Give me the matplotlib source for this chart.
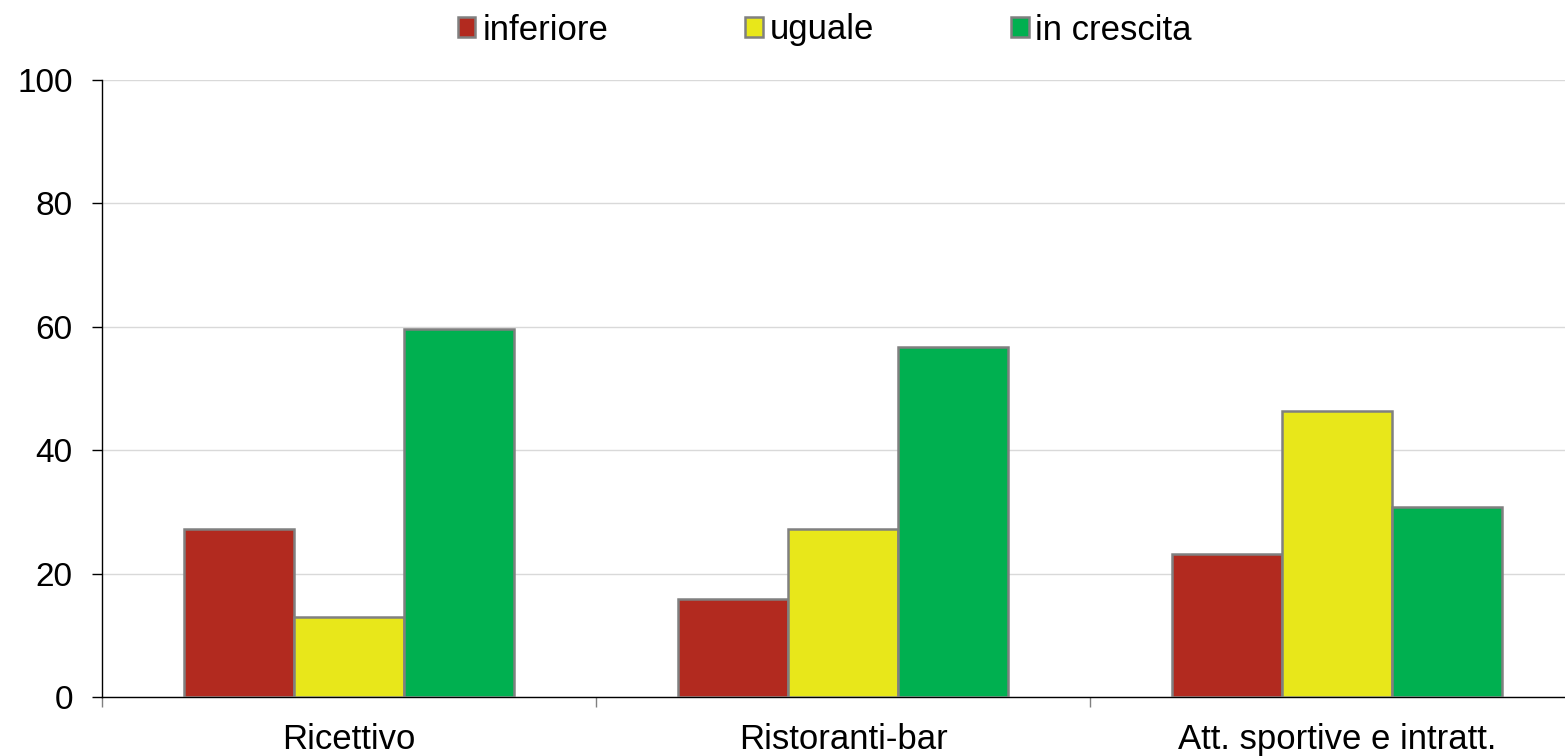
import numpy as np
from matplotlib import pyplot as plt
from matplotlib.patches import Patch

plt.rcParams['font.family'] = ['Liberation Sans', 'DejaVu Sans']

categories = ['Ricettivo', 'Ristoranti-bar', 'Att. sportive e intratt.']
series_names = ['inferiore', 'uguale', 'in crescita']
inferiore = [27.2, 15.9, 23.2]
uguale = [13.0, 27.2, 46.4]
in_crescita = [59.6, 56.7, 30.8]
y_ticks = [0, 20, 40, 60, 80, 100]

colors = ['#B22A1F', '#E8E71A', '#00B050']
edge = '#808080'

fig = plt.figure(figsize=(15.65, 7.56), dpi=100)
ax = fig.add_axes([102 / 1565, 1 - 697 / 756, 1482 / 1565, 617 / 756])

x = np.arange(len(categories)) + 0.5
width = 1 / 4.5
for i, (vals, col) in enumerate(zip([inferiore, uguale, in_crescita], colors)):
    ax.bar(x + (i - 1) * width, vals, width, color=col, edgecolor=edge,
           linewidth=1.8, zorder=3)

ax.set_xlim(0, 3)
ax.set_ylim(0, 100)
ax.set_yticks(y_ticks)
ax.set_xticks(x)
ax.set_xticklabels(categories)
ax.set_xticks([0, 1, 2, 3], minor=True)
ax.tick_params(axis='x', which='major', length=0, labelsize=25, pad=19)
ax.tick_params(axis='x', which='minor', length=7, color='#808080', width=1)
ax.tick_params(axis='y', length=7, width=1, labelsize=24, pad=14)

ax.yaxis.grid(True, color='#d9d9d9', linewidth=1, zorder=0)
ax.set_axisbelow(True)
for s in ['top', 'right']:
    ax.spines[s].set_visible(False)
ax.spines['left'].set_linewidth(1)
ax.spines['bottom'].set_linewidth(1)

handles = [Patch(facecolor=c, edgecolor=edge, linewidth=1.8) for c in colors]
fig.legend(handles, series_names, loc='center', ncol=3,
           bbox_to_anchor=(825 / 1565, 1 - 30 / 756), frameon=False,
           fontsize=25, handlelength=0.5, handleheight=0.5,
           handletextpad=0.2, columnspacing=3.95)

fig.savefig('out.png', dpi=100)
